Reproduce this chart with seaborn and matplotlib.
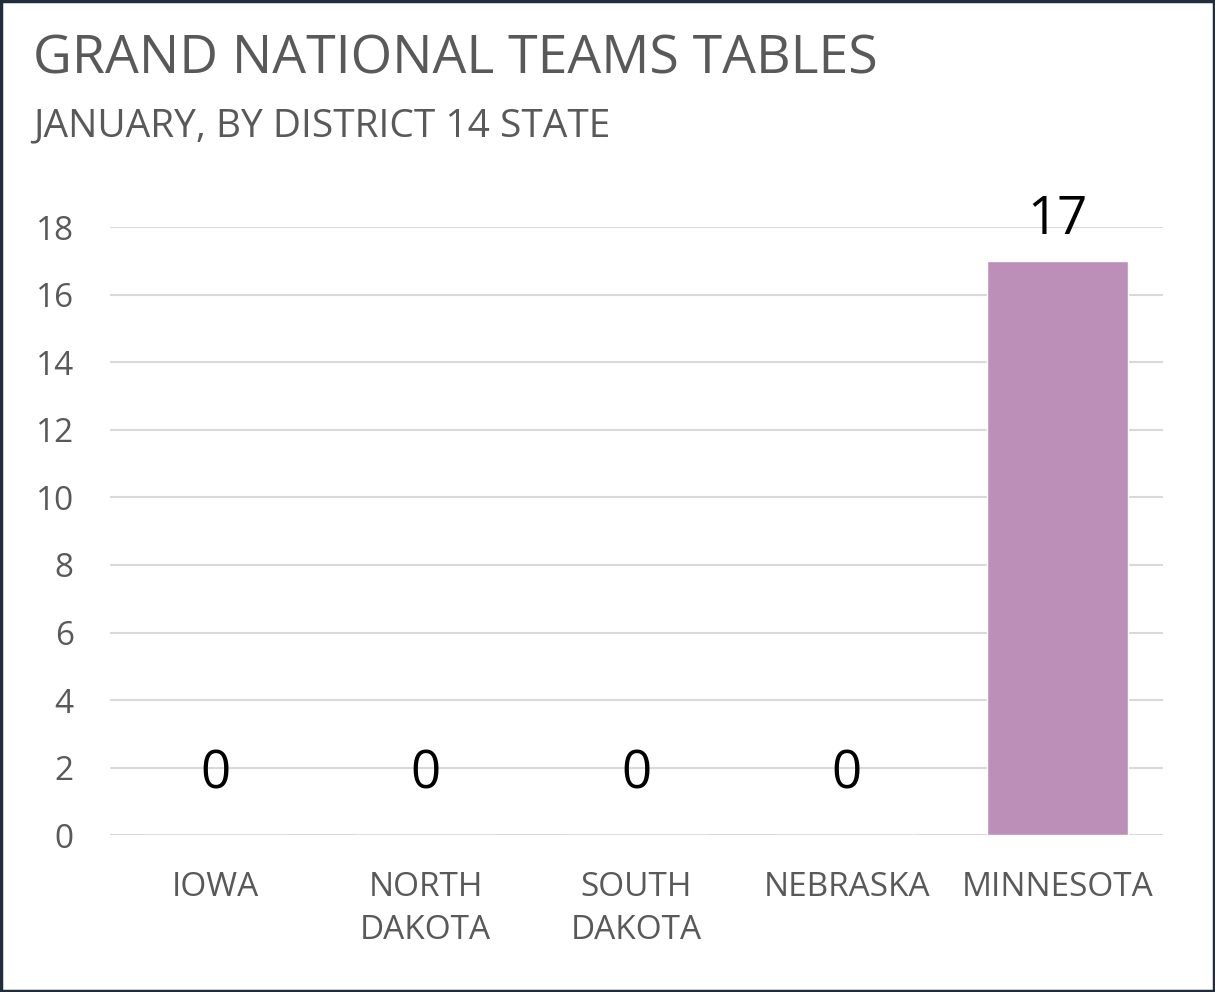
import matplotlib
matplotlib.use("Agg")
import matplotlib.pyplot as plt
import seaborn as sns
import pandas as pd

states = ["IOWA", "NORTH\nDAKOTA", "SOUTH\nDAKOTA", "NEBRASKA", "MINNESOTA"]
tables = [0, 0, 0, 0, 17]

df = pd.DataFrame({"state": states, "tables": tables})

sns.set_style("white")
plt.rcParams['font.family'] = ['Open Sans', 'DejaVu Sans']

fig = plt.figure(figsize=(12.15, 9.92), dpi=100)
ax = fig.add_axes([0.0905, 0.158, 0.8665, 0.613])
sns.barplot(data=df, x="state", y="tables", color="#bb8fb7", width=0.67,
            saturation=1, ax=ax)

ax.set_ylim(0, 18)
ax.set_yticks(range(0, 19, 2))
ax.yaxis.grid(True, color="#d9d9d9", linewidth=1.5)
ax.set_axisbelow(True)
for s in ax.spines.values():
    s.set_visible(False)
ax.set_xlabel("")
ax.set_ylabel("")
ax.tick_params(axis="both", length=0, labelsize=24, colors="#595959")
ax.tick_params(axis="x", pad=26)
ax.tick_params(axis="y", pad=26)
for lab in ax.get_xticklabels():
    lab.set_linespacing(1.4)

for i, v in enumerate(tables):
    off = 10 if v > 0 else 24
    ax.annotate(str(v), (i, v), xytext=(0, off), textcoords="offset points",
                ha="center", va="bottom", fontsize=38, color="black")

fig.text(0.027, 0.94, "GRAND NATIONAL TEAMS TABLES", fontsize=38.5,
         color="#595959", va="center")
fig.text(0.027, 0.873, "JANUARY, BY DISTRICT 14 STATE", fontsize=28,
         color="#595959", va="center")

fig.add_artist(plt.Rectangle((0.001, 0.001), 0.998, 0.998, transform=fig.transFigure,
                             fill=False, edgecolor="#1f2d3d", linewidth=2.5))

fig.savefig("out.png", dpi=100)
